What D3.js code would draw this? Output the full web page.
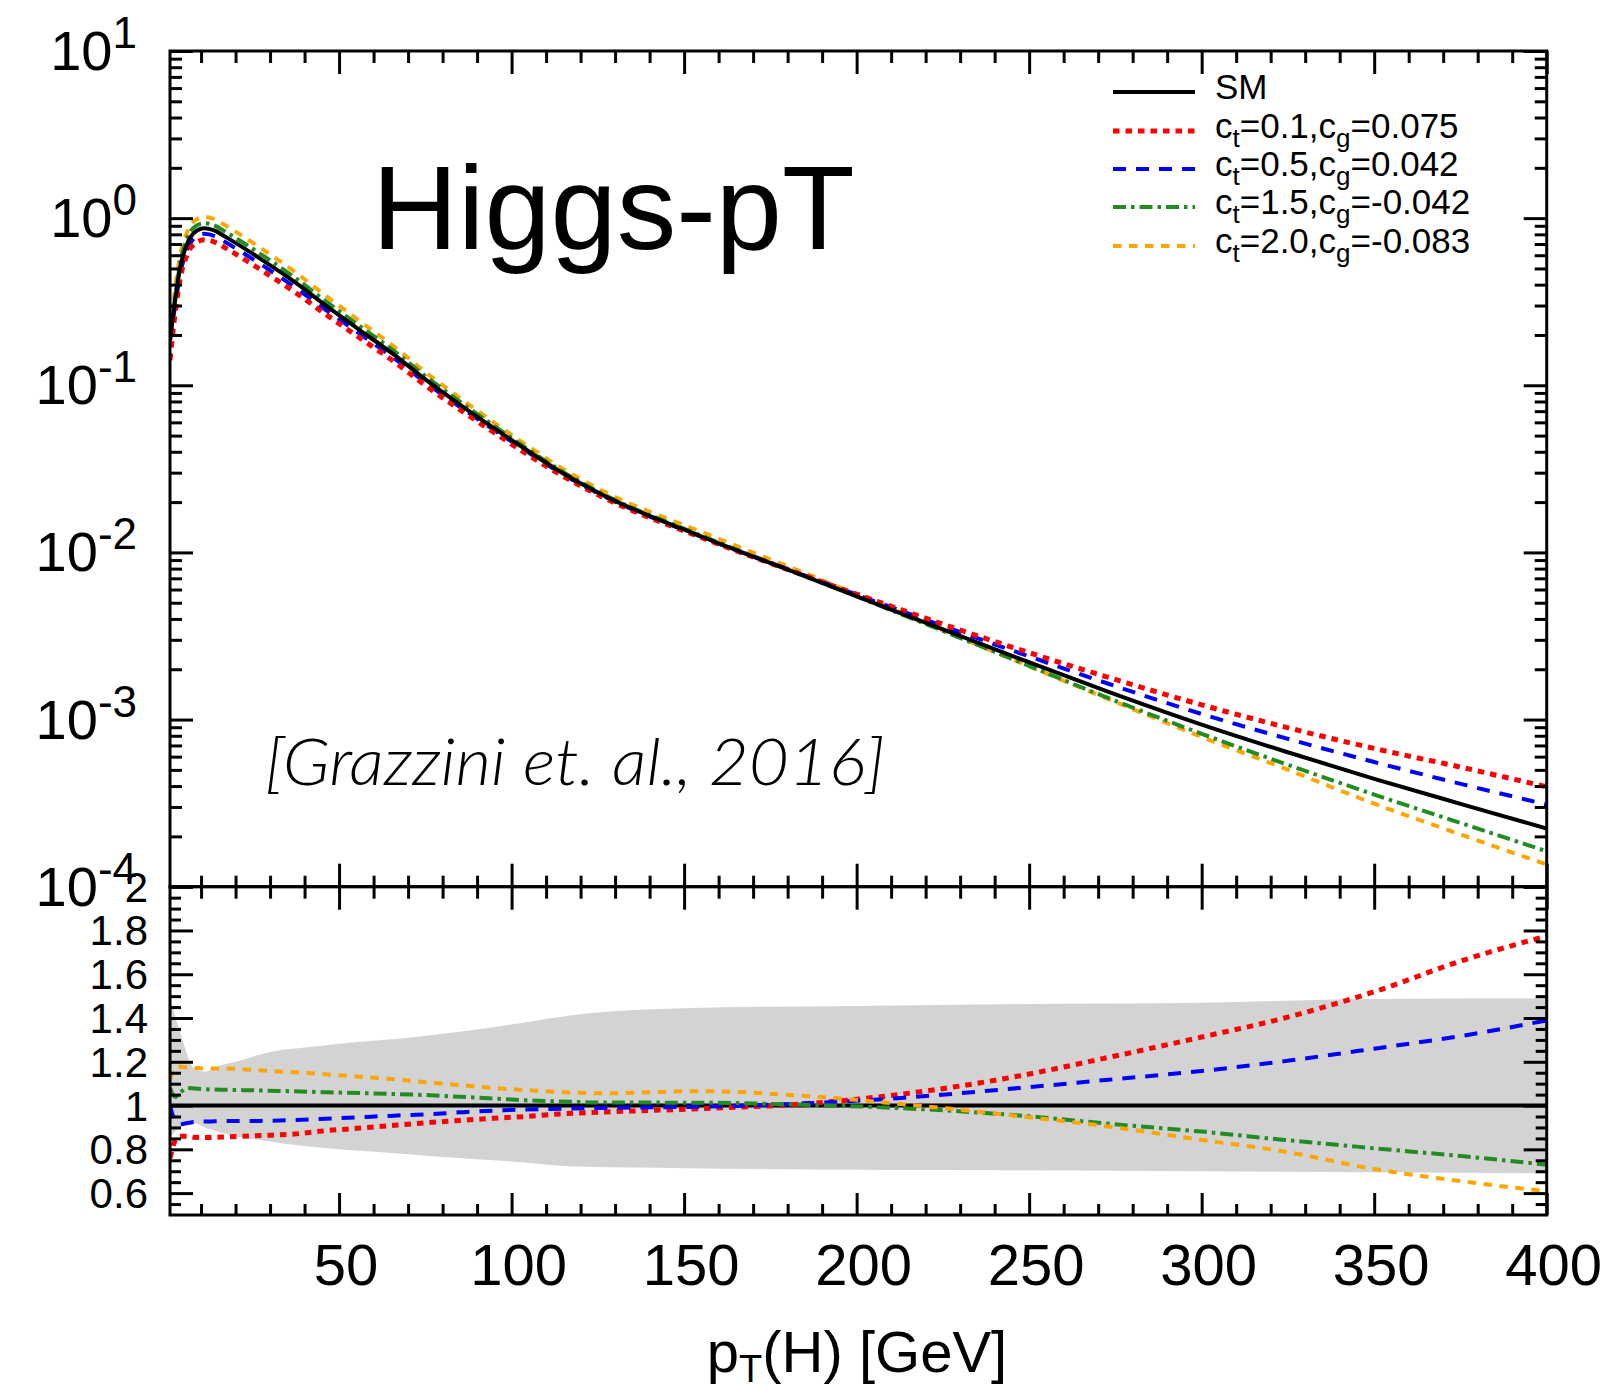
<!DOCTYPE html>
<html>
<head>
<meta charset="utf-8">
<script src="https://cdn.jsdelivr.net/npm/d3@7"></script>
<style>
body { margin: 0; background: #fff; }
svg { display: block; background: #fff; }
text { font-family: "Liberation Sans", Arial, Helvetica, sans-serif; fill: #000; }
</style>
</head>
<body>
<svg id="canvas"></svg>
<script>
//--data
// pT(H) points [GeV], shared by every curve
const ptGrid = [1, 2.5, 4, 6, 8, 11, 14, 17, 27, 37, 46, 56, 66, 75, 85, 95, 104, 114, 126, 155, 184, 213, 247, 273, 300, 324, 350, 376, 400];

// upper panel: distribution
const smXsec = [0.186, 0.324, 0.512, 0.706, 0.818, 0.869, 0.841, 0.775, 0.575, 0.417, 0.302, 0.214, 0.152, 0.1084, 0.0767, 0.0552, 0.0414, 0.0305, 0.0223, 0.01245, 0.00733, 0.00431, 0.00232, 0.001465, 0.000933, 0.000646, 0.000442, 0.000309, 0.000223];
const ct01Xsec = [0.1414, 0.272, 0.440, 0.607, 0.699, 0.742, 0.719, 0.664, 0.496, 0.363, 0.267, 0.192, 0.1383, 0.0998, 0.0715, 0.0520, 0.0393, 0.0293, 0.02163, 0.01228, 0.00738, 0.00453, 0.00263, 0.001787, 0.001225, 0.000904, 0.000672, 0.000514, 0.000396];
const ct05Xsec = [0.186, 0.301, 0.468, 0.650, 0.757, 0.806, 0.780, 0.720, 0.535, 0.389, 0.284, 0.203, 0.145, 0.1041, 0.0743, 0.0539, 0.0407, 0.0300, 0.02205, 0.01239, 0.0074, 0.00446, 0.00251, 0.001638, 0.00108, 0.000777, 0.000557, 0.000408, 0.00031];
const ct15Xsec = [0.201, 0.337, 0.543, 0.762, 0.882, 0.934, 0.902, 0.831, 0.615, 0.444, 0.320, 0.226, 0.160, 0.1136, 0.0798, 0.0570, 0.0424, 0.0311, 0.02261, 0.01261, 0.00736, 0.00426, 0.00222, 0.001343, 0.000822, 0.000545, 0.000356, 0.000237, 0.000163];
const ct20Xsec = [0.208, 0.379, 0.603, 0.830, 0.959, 1.016, 0.983, 0.906, 0.668, 0.480, 0.345, 0.242, 0.170, 0.120, 0.0839, 0.0596, 0.0443, 0.0324, 0.02355, 0.01327, 0.00766, 0.00434, 0.00221, 0.001324, 0.000787, 0.00051, 0.000314, 0.000202, 0.000136];

// lower panel: ratio to SM
const ct01Ratio = [0.76, 0.84, 0.86, 0.86, 0.855, 0.854, 0.855, 0.857, 0.863, 0.87, 0.885, 0.897, 0.91, 0.921, 0.932, 0.942, 0.95, 0.962, 0.97, 0.986, 1.007, 1.052, 1.135, 1.22, 1.313, 1.40, 1.52, 1.665, 1.775];
const ct05Ratio = [1.0, 0.93, 0.915, 0.92, 0.925, 0.927, 0.928, 0.929, 0.93, 0.934, 0.94, 0.947, 0.954, 0.96, 0.969, 0.977, 0.982, 0.985, 0.989, 0.995, 1.009, 1.035, 1.08, 1.118, 1.158, 1.203, 1.26, 1.32, 1.389];
const ct15Ratio = [1.08, 1.04, 1.06, 1.08, 1.078, 1.075, 1.073, 1.072, 1.069, 1.065, 1.061, 1.057, 1.053, 1.048, 1.04, 1.032, 1.024, 1.019, 1.014, 1.013, 1.004, 0.988, 0.955, 0.917, 0.881, 0.843, 0.805, 0.768, 0.73];
const ct20Ratio = [1.12, 1.17, 1.177, 1.175, 1.172, 1.169, 1.169, 1.169, 1.161, 1.152, 1.143, 1.132, 1.12, 1.107, 1.094, 1.08, 1.071, 1.062, 1.056, 1.066, 1.045, 1.007, 0.952, 0.904, 0.843, 0.79, 0.71, 0.653, 0.608];
const smRatioLevel = 1;

// grey uncertainty band in the ratio panel
const bandPt = [1, 4, 8, 11, 15, 20, 30, 40, 50, 68, 76, 100, 121, 150, 200, 250, 300, 350, 400];
const bandLo = [0.86, 0.90, 0.92, 0.90, 0.88, 0.86, 0.836, 0.815, 0.80, 0.78, 0.77, 0.745, 0.72, 0.714, 0.707, 0.704, 0.70, 0.695, 0.69];
const bandHi = [1.49, 1.33, 1.17, 1.155, 1.18, 1.20, 1.245, 1.265, 1.283, 1.307, 1.32, 1.37, 1.42, 1.445, 1.455, 1.464, 1.47, 1.487, 1.49];

// tick labels
const xTickLabels = [50, 100, 150, 200, 250, 300, 350, 400];
const decadeExps = [1, 0, -1, -2, -3, -4];
const ratioTickLabels = ["2", "1.8", "1.6", "1.4", "1.2", "1", "0.8", "0.6"];
const legendNames = [["SM"], ["0.1", "0.075"], ["0.5", "0.042"], ["1.5", "-0.042"], ["2.0", "-0.083"]];
//--

//--canvas
const width = 1608, height = 1391;
const left = 170, right = 1546.7, topY = 51, midY = 886.7, botY = 1215;

const svg = d3.select("#canvas").attr("width", width).attr("height", height);

const x = d3.scaleLinear().domain([1, 400]).range([left, right]);
const yUp = d3.scaleLog().domain([1e-4, 10]).range([midY, topY]);
const yLo = d3.scaleLinear().domain([0.5, 2]).range([botY, midY]);
//--

//--series styles
const styles = [
  { color: "#000000", width: 4, dash: null },
  { color: "#ff0000", width: 5, dash: "6.5,6" },
  { color: "#0000ff", width: 4, dash: "13,10" },
  { color: "#228b22", width: 4, dash: "13,5,3.5,5" },
  { color: "#ffa500", width: 4, dash: "8.5,7.5" }
];
const upperSeries = [smXsec, ct01Xsec, ct05Xsec, ct15Xsec, ct20Xsec];
const lowerSeries = [ct01Ratio, ct05Ratio, ct15Ratio, ct20Ratio];
//--

svg.append("defs").call(d => {
  d.append("clipPath").attr("id", "clipUp").append("rect")
    .attr("x", left).attr("y", topY).attr("width", right - left).attr("height", midY - topY);
  d.append("clipPath").attr("id", "clipLo").append("rect")
    .attr("x", left).attr("y", midY).attr("width", right - left).attr("height", botY - midY);
});

//--lower panel band and curves
const band = d3.area()
  .x((d, i) => x(bandPt[i]))
  .y0((d, i) => yLo(bandLo[i]))
  .y1((d, i) => yLo(bandHi[i]))
  .curve(d3.curveMonotoneX);

const gLo = svg.append("g").attr("clip-path", "url(#clipLo)");
gLo.append("path").datum(bandPt).attr("d", band).attr("fill", "#d3d3d3");

gLo.append("line")
  .attr("x1", left).attr("x2", right)
  .attr("y1", yLo(smRatioLevel)).attr("y2", yLo(smRatioLevel))
  .attr("stroke", "#000").attr("stroke-width", 4);

const lineLo = vals => d3.line()
  .x((d, i) => x(ptGrid[i]))
  .y((d, i) => yLo(vals[i]))
  .curve(d3.curveMonotoneX)(vals);

lowerSeries.forEach((vals, k) => {
  const s = styles[k + 1];
  gLo.append("path")
    .attr("d", lineLo(vals))
    .attr("fill", "none")
    .attr("stroke", s.color)
    .attr("stroke-width", s.width)
    .attr("stroke-dasharray", s.dash);
});
//--

//--upper panel curves (SM drawn last so it sits on top)
const gUp = svg.append("g").attr("clip-path", "url(#clipUp)");
const lineUp = vals => d3.line()
  .x((d, i) => x(ptGrid[i]))
  .y((d, i) => yUp(vals[i]))
  .curve(d3.curveMonotoneX)(vals);

[4, 3, 2, 1, 0].forEach(k => {
  const s = styles[k];
  gUp.append("path")
    .attr("d", lineUp(upperSeries[k]))
    .attr("fill", "none")
    .attr("stroke", s.color)
    .attr("stroke-width", s.width)
    .attr("stroke-dasharray", s.dash);
});
//--

//--axes: all ticks point inwards, frame drawn separately
const xMajor = d3.range(0, 401, 50).filter(v => v >= 1);
const xMinor = d3.range(10, 400, 10).filter(v => v % 50 !== 0);
const decMajor = decadeExps.map(e => Math.pow(10, e));
const decMinor = [];
decadeExps.slice(1).forEach(e => { for (let m = 2; m <= 9; m++) decMinor.push(m * Math.pow(10, e)); });
const loMajor = d3.range(0.6, 2.01, 0.2);
const loMinor = d3.range(0.55, 1.99, 0.05).filter(v => Math.abs(v * 5 - Math.round(v * 5)) > 1e-6);

const addAxis = (axisFn, scale, values, size, tx, ty) => {
  const g = svg.append("g")
    .attr("transform", `translate(${tx},${ty})`)
    .call(axisFn(scale).tickValues(values).tickSize(size).tickFormat(""));
  g.select(".domain").remove();
  g.selectAll(".tick line").attr("stroke", "#000").attr("stroke-width", 3);
};

// upper panel
addAxis(d3.axisRight, yUp, decMajor, 23, left, 0);
addAxis(d3.axisRight, yUp, decMinor, 12, left, 0);
addAxis(d3.axisLeft, yUp, decMajor, 23, right, 0);
addAxis(d3.axisLeft, yUp, decMinor, 12, right, 0);
addAxis(d3.axisBottom, x, xMajor, 23, 0, topY);
addAxis(d3.axisBottom, x, xMinor, 12, 0, topY);
addAxis(d3.axisTop, x, xMajor, 23, 0, midY);
addAxis(d3.axisTop, x, xMinor, 11, 0, midY);
// lower panel
addAxis(d3.axisBottom, x, xMajor, 23, 0, midY);
addAxis(d3.axisBottom, x, xMinor, 12, 0, midY);
addAxis(d3.axisTop, x, xMajor, 22, 0, botY);
addAxis(d3.axisTop, x, xMinor, 11, 0, botY);
addAxis(d3.axisRight, yLo, loMajor, 23, left, 0);
addAxis(d3.axisRight, yLo, loMinor, 11, left, 0);
addAxis(d3.axisLeft, yLo, loMajor, 23, right, 0);
addAxis(d3.axisLeft, yLo, loMinor, 11, right, 0);

// frames
[[topY, midY], [midY, botY]].forEach(([a, b]) => {
  svg.append("rect")
    .attr("x", left).attr("y", a)
    .attr("width", right - left).attr("height", b - a)
    .attr("fill", "none").attr("stroke", "#000").attr("stroke-width", 3);
});
//--

//--tick labels
svg.selectAll(".xlab")
  .data(xTickLabels)
  .enter().append("text")
  .attr("class", "xlab")
  .attr("x", d => x(d) + 7)
  .attr("y", 1285)
  .attr("text-anchor", "middle")
  .attr("font-size", 58)
  .text(d => d);

svg.selectAll(".declab")
  .data(decadeExps)
  .enter().append("text")
  .attr("class", "declab")
  .attr("x", 137)
  .attr("y", d => yUp(Math.pow(10, d)) + 19)
  .attr("text-anchor", "end")
  .attr("font-size", 56)
  .each(function (d) {
    const t = d3.select(this);
    t.append("tspan").text("10");
    t.append("tspan").attr("font-size", 44).attr("dy", -22).text(d);
  });

svg.selectAll(".ratiolab")
  .data(ratioTickLabels)
  .enter().append("text")
  .attr("class", "ratiolab")
  .attr("x", 148)
  .attr("y", d => yLo(+d) + 15)
  .attr("text-anchor", "end")
  .attr("font-size", 42)
  .text(d => d);
//--

//--axis title, titles
const xt = svg.append("text")
  .attr("x", 857).attr("y", 1372)
  .attr("text-anchor", "middle")
  .attr("font-size", 58);
xt.append("tspan").text("p");
xt.append("tspan").attr("font-size", 38).attr("dy", 10).text("T");
xt.append("tspan").attr("dy", -10).text("(H) [GeV]");

svg.append("text")
  .attr("x", 372).attr("y", 249)
  .attr("font-size", 119)
  .text("Higgs-pT");

svg.append("text")
  .attr("x", 265).attr("y", 785)
  .attr("font-size", 66)
  .attr("font-style", "italic")
  .attr("font-weight", 300)
  .attr("textLength", 620)
  .attr("lengthAdjust", "spacingAndGlyphs")
  .style("font-family", "Lato, 'Open Sans', 'DejaVu Sans', sans-serif")
  .text("[Grazzini et. al., 2016]");
//--

//--legend
const legRowY = [92, 131, 169, 207, 246];
const leg = svg.append("g");
legendNames.forEach((name, i) => {
  const s = styles[i];
  leg.append("line")
    .attr("x1", 1113).attr("x2", 1195)
    .attr("y1", legRowY[i]).attr("y2", legRowY[i])
    .attr("stroke", s.color)
    .attr("stroke-width", s.width)
    .attr("stroke-dasharray", s.dash);
  const t = leg.append("text")
    .attr("x", 1215).attr("y", legRowY[i] + 7)
    .attr("font-size", 35);
  if (name.length === 1) {
    t.text(name[0]);
  } else {
    t.append("tspan").text("c");
    t.append("tspan").attr("font-size", 26).attr("dy", 9).text("t");
    t.append("tspan").attr("dy", -9).text("=" + name[0] + ",c");
    t.append("tspan").attr("font-size", 26).attr("dy", 9).text("g");
    t.append("tspan").attr("dy", -9).text("=" + name[1]);
  }
});
//--
</script>
</body>
</html>
